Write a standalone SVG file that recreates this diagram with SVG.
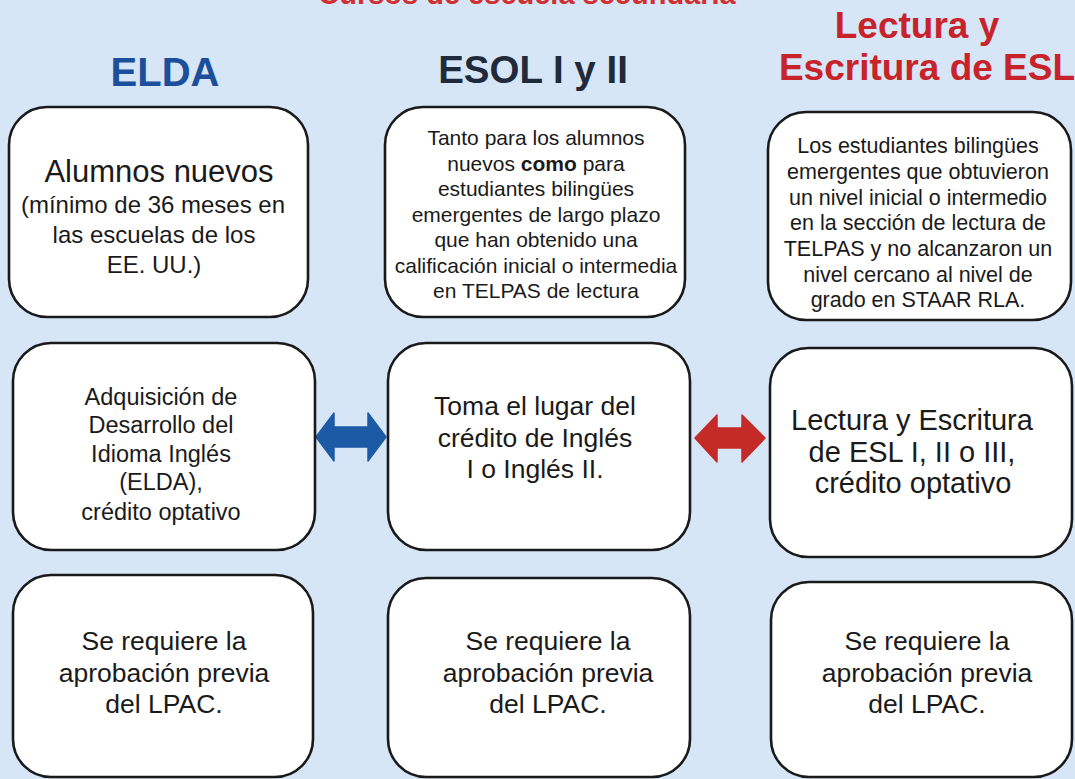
<svg xmlns="http://www.w3.org/2000/svg" width="1075" height="779" viewBox="0 0 1075 779">
<style>
.box{fill:#ffffff;stroke:#1a1a1a;stroke-width:2.6}
.t{font-family:"Liberation Sans",Arial,sans-serif;fill:#1a1a1a;text-anchor:middle}
.h{font-family:"Liberation Sans",Arial,sans-serif;font-weight:bold;text-anchor:middle}
</style>
<rect x="0" y="0" width="1075" height="779" fill="#d6e6f7"/>
<text class="h" x="527" y="4" font-size="29" fill="#d0302f">Cursos de escuela secundaria</text>
<g id="headers">
<text class="h" x="165" y="86" font-size="40" fill="#1b4f9b">ELDA</text>
<text class="h" x="533" y="83" font-size="38.5" fill="#1f2b3b">ESOL I y II</text>
<text class="h" x="917" y="38" font-size="37" fill="#c8232a">Lectura y</text>
<text class="h" x="927" y="80" font-size="37" fill="#c8232a">Escritura de ESL</text>
</g>
<g id="connectors">
<polygon points="316,437 334,413 334,427 368,427 368,413 386,437 368,461 368,447 334,447 334,461" fill="#1d5aa5" stroke="#1d5aa5" stroke-width="1.5" stroke-linejoin="round"/>
<polygon points="695,438 717,415 717,428 742,428 742,415 765,438 742,462 742,448 717,448 717,462" fill="#c42a26" stroke="#c42a26" stroke-width="1.5" stroke-linejoin="round"/>
</g>
<g id="elda-1">
<rect class="box" x="9" y="107" width="299" height="210" rx="38"/>
<text class="t" x="159" y="182" font-size="31">Alumnos nuevos</text>
<text class="t" x="153" y="213" font-size="24">(mínimo de 36 meses en</text>
<text class="t" x="154" y="243" font-size="24">las escuelas de los</text>
<text class="t" x="154" y="273" font-size="24">EE. UU.)</text>
</g>
<g id="esol-1">
<rect class="box" x="385" y="107" width="300" height="210" rx="38"/>
<text class="t" x="536" y="145" font-size="21">Tanto para los alumnos</text>
<text class="t" x="536" y="171" font-size="21">nuevos <tspan font-weight="bold">como</tspan> para</text>
<text class="t" x="536" y="196" font-size="21">estudiantes bilingües</text>
<text class="t" x="536" y="222" font-size="21">emergentes de largo plazo</text>
<text class="t" x="536" y="247" font-size="21">que han obtenido una</text>
<text class="t" x="536" y="273" font-size="21">calificación inicial o intermedia</text>
<text class="t" x="536" y="298" font-size="21">en TELPAS de lectura</text>
</g>
<g id="esl-1">
<rect class="box" x="768" y="112" width="303" height="208" rx="38"/>
<text class="t" x="918" y="153" font-size="21.5">Los estudiantes bilingües</text>
<text class="t" x="918" y="179" font-size="21.5">emergentes que obtuvieron</text>
<text class="t" x="918" y="205" font-size="21.5">un nivel inicial o intermedio</text>
<text class="t" x="918" y="230" font-size="21.5">en la sección de lectura de</text>
<text class="t" x="918" y="256" font-size="21.5">TELPAS y no alcanzaron un</text>
<text class="t" x="918" y="282" font-size="21.5">nivel cercano al nivel de</text>
<text class="t" x="918" y="307" font-size="21.5">grado en STAAR RLA.</text>
</g>
<g id="elda-2">
<rect class="box" x="13" y="343" width="302" height="207" rx="38"/>
<text class="t" x="161" y="405" font-size="23.5">Adquisición de</text>
<text class="t" x="161" y="433" font-size="23.5">Desarrollo del</text>
<text class="t" x="161" y="462" font-size="23.5">Idioma Inglés</text>
<text class="t" x="161" y="490" font-size="23.5">(ELDA),</text>
<text class="t" x="161" y="520" font-size="23.5">crédito optativo</text>
</g>
<g id="esol-2">
<rect class="box" x="388" y="343" width="302" height="207" rx="38"/>
<text class="t" x="535" y="415" font-size="26.5">Toma el lugar del</text>
<text class="t" x="535" y="447" font-size="26.5">crédito de Inglés</text>
<text class="t" x="535" y="478" font-size="26.5">I o Inglés II.</text>
</g>
<g id="esl-2">
<rect class="box" x="770" y="348" width="302" height="209" rx="38"/>
<text class="t" x="912" y="430" font-size="29">Lectura y Escritura</text>
<text class="t" x="912" y="462" font-size="29">de ESL I, II o III,</text>
<text class="t" x="913" y="493" font-size="29">crédito optativo</text>
</g>
<g id="elda-3">
<rect class="box" x="13" y="575" width="300" height="202" rx="38"/>
<text class="t" x="164" y="650" font-size="26.5">Se requiere la</text>
<text class="t" x="164" y="682" font-size="26.5">aprobación previa</text>
<text class="t" x="164" y="713" font-size="26.5">del LPAC.</text>
</g>
<g id="esol-3">
<rect class="box" x="388" y="578" width="302" height="199" rx="38"/>
<text class="t" x="548" y="650" font-size="26.5">Se requiere la</text>
<text class="t" x="548" y="682" font-size="26.5">aprobación previa</text>
<text class="t" x="548" y="713" font-size="26.5">del LPAC.</text>
</g>
<g id="esl-3">
<rect class="box" x="771" y="582" width="301" height="195" rx="38"/>
<text class="t" x="927" y="650" font-size="26.5">Se requiere la</text>
<text class="t" x="927" y="682" font-size="26.5">aprobación previa</text>
<text class="t" x="927" y="713" font-size="26.5">del LPAC.</text>
</g>
</svg>
